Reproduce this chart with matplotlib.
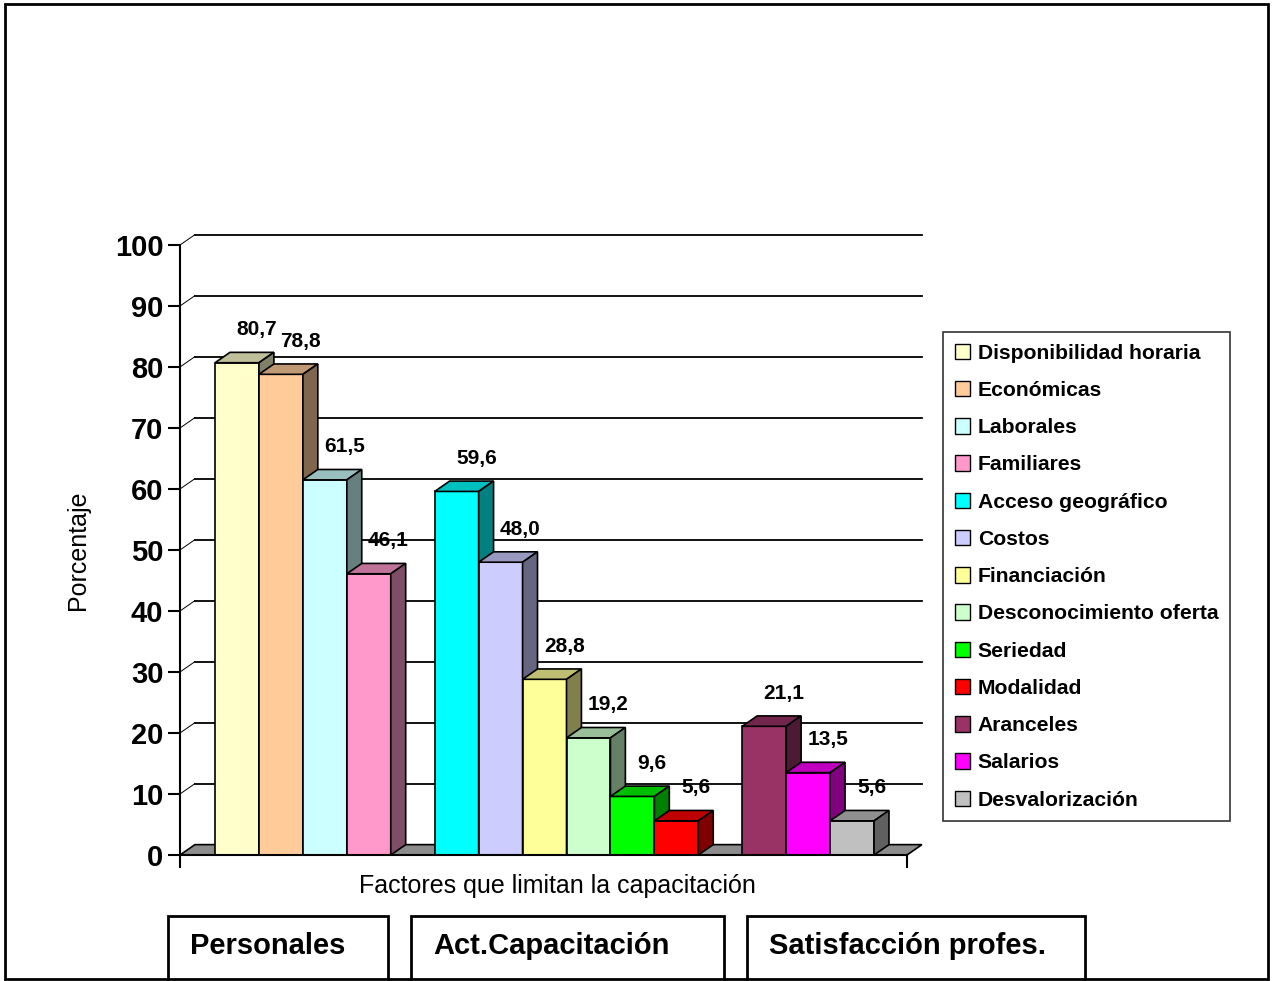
import matplotlib
matplotlib.use("Agg")
import matplotlib.pyplot as plt
from matplotlib.patches import Polygon, Rectangle, Patch
from matplotlib.colors import to_rgb

plt.rcParams['font.family'] = ['Liberation Sans', 'DejaVu Sans']

# data
factores = ["Disponibilidad horaria", "Económicas", "Laborales", "Familiares",
            "Acceso geográfico", "Costos", "Financiación", "Desconocimiento oferta",
            "Seriedad", "Modalidad", "Aranceles", "Salarios", "Desvalorización"]
valores = [80.7, 78.8, 61.5, 46.1, 59.6, 48.0, 28.8, 19.2, 9.6, 5.6, 21.1, 13.5, 5.6]
grupo = [0, 0, 0, 0, 1, 1, 1, 1, 1, 1, 2, 2, 2]
grupos = ["Personales", "Act.Capacitación", "Satisfacción profes."]
colores = ["#FFFFCC", "#FFCC99", "#CCFFFF", "#FF99CC", "#00FFFF", "#CCCCFF", "#FFFF99",
           "#CCFFCC", "#00FF00", "#FF0000", "#993366", "#FF00FF", "#C0C0C0"]

W, H = 1274, 981
fig = plt.figure(figsize=(W / 100, H / 100), dpi=100)
ax = fig.add_axes([180 / W, 126 / H, 727 / W, 610 / H])

xmin, xmax = -0.797, 15.75
ax.set_xlim(xmin, xmax)
ax.set_ylim(0, 100)
dx, dy = 0.34, 1.7  # depth offset


def shade(c, f):
    r, g, b = to_rgb(c)
    return (r * f, g * f, b * f)


# floor
ax.add_patch(Polygon([(xmin, 0), (xmax, 0), (xmax + dx, dy), (xmin + dx, dy)],
                     closed=True, facecolor="#8c8c8c", edgecolor="black",
                     lw=1.2, clip_on=False, zorder=1))

# back wall gridlines + left wall diagonals
for v in range(10, 101, 10):
    ax.plot([xmin + dx, xmax + dx], [v + dy, v + dy], color="black", lw=1.3,
            clip_on=False, zorder=1)
    ax.plot([xmin, xmin + dx], [v, v + dy], color="black", lw=0.7,
            clip_on=False, zorder=1)

# bars
z = 3
for i, (name, v, g, c) in enumerate(zip(factores, valores, grupo, colores)):
    left = i + g  # one empty slot between groups
    right = left + 1
    ax.bar(left, v, width=1, align="edge", color=c, edgecolor="black", lw=1.2,
           label=name, zorder=z)
    ax.add_patch(Polygon([(left, v), (left + dx, v + dy), (right + dx, v + dy), (right, v)],
                         closed=True, facecolor=shade(c, 0.75), edgecolor="black",
                         lw=1.2, clip_on=False, zorder=z))
    ax.add_patch(Polygon([(right, 0), (right, v), (right + dx, v + dy), (right + dx, dy)],
                         closed=True, facecolor=shade(c, 0.5), edgecolor="black",
                         lw=1.2, clip_on=False, zorder=z))
    ax.text(right - 0.05, v + 5.4, f"{v:.1f}".replace(".", ","), ha="center", va="center",
            fontsize=15, fontweight="bold", zorder=20)
    z += 1

for s in ["top", "right"]:
    ax.spines[s].set_visible(False)
ax.spines["left"].set_linewidth(1.5)
ax.spines["bottom"].set_linewidth(1.5)
ax.spines["left"].set_zorder(30)
ax.spines["bottom"].set_zorder(30)

ax.set_yticks(range(0, 101, 10))
ax.set_yticklabels([str(t) for t in range(0, 101, 10)], fontsize=21, fontweight="bold")
ax.set_xticks([xmin, xmax])
ax.set_xticklabels(["", ""])
ax.tick_params(axis="both", direction="out", length=9, width=1.5, pad=3)
ax.set_ylabel("Porcentaje", fontsize=18, labelpad=18)
ax.set_xlabel("Factores que limitan la capacitación", fontsize=18, labelpad=2)
ax.xaxis.label.set_x((557 - 180) / 727)
ax.set_facecolor("none")

# legend
handles = [Patch(facecolor=c, edgecolor="black", lw=1) for c in colores]
leg = fig.legend(handles, factores, loc="upper left",
                 bbox_to_anchor=(943 / W, 1 - 332 / H), borderaxespad=0,
                 fancybox=False, frameon=True, edgecolor="black",
                 prop={"size": 15.2, "weight": "bold"},
                 handlelength=0.75, handleheight=0.75, handletextpad=0.35,
                 labelspacing=0.86, borderpad=0.55)
leg.get_frame().set_linewidth(1.2)

# group boxes below
cajas = [(168, 388), (411, 724), (747, 1085)]
for (x0, x1), nombre in zip(cajas, grupos):
    fig.patches.append(Rectangle((x0 / W, -0.05), (x1 - x0) / W, (0.05 + 1 - 916 / H),
                                 transform=fig.transFigure, facecolor="white",
                                 edgecolor="black", lw=2))
    fig.text((x0 + 22) / W, 1 - 946 / H, nombre, fontsize=21, fontweight="bold",
             ha="left", va="center")

# outer frame
fig.patches.append(Rectangle((5 / W, 2 / H), 1263 / W, 975 / H, transform=fig.transFigure,
                             facecolor="none", edgecolor="black", lw=2))

fig.savefig("out.png", dpi=100)
